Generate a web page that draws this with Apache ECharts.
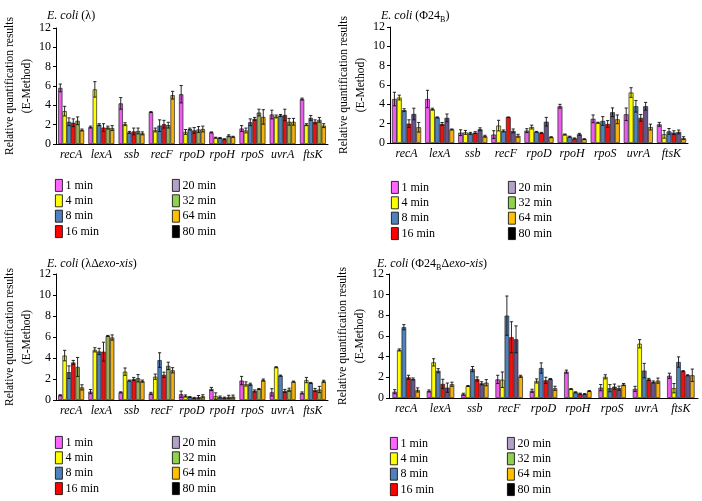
<!DOCTYPE html>
<html><head><meta charset="utf-8">
<script src="https://cdn.jsdelivr.net/npm/echarts@6/dist/echarts.min.js"></script>
<style>html,body{margin:0;padding:0;background:#fff}#c{width:702px;height:501px}</style>
</head><body><div id="c"></div>
<script>
// ---- data ----
const genes = ['recA','lexA','ssb','recF','rpoD','rpoH','rpoS','uvrA','ftsK'];
const timeNames = ['1 min','4 min','8 min','16 min','20 min','32 min','64 min','80 min'];
const yTicks = [0,2,4,6,8,10,12];

// E. coli (lambda): series 1,4,8,16,32,64 min
const lamSeries = ['1 min','4 min','8 min','16 min','32 min','64 min'];
const lamVals = [
 [5.8,1.75,4.2,3.3,5.15,1.2,1.6,3.05,4.65],
 [3.4,5.65,2.05,1.45,1.25,0.65,1.4,2.85,2.0],
 [2.3,2.0,1.2,1.9,1.55,0.62,2.25,2.95,2.7],
 [2.2,1.7,1.3,2.05,1.4,0.5,2.6,3.0,2.3],
 [2.4,1.7,1.35,1.95,1.5,0.85,3.25,2.3,2.5],
 [1.45,1.65,1.1,5.05,1.55,0.75,2.8,2.3,1.9]
];
const lamErr = [
 [0.4,0.1,0.6,0.05,0.9,0.05,0.3,0.45,0.1],
 [0.5,0.8,0.15,0.2,0.25,0.05,0.25,0.15,0.1],
 [0.4,0.1,0.1,0.6,0.1,0.05,0.35,0.1,0.25],
 [0.4,0.4,0.35,0.4,0.3,0.05,0.15,0.6,0.2],
 [0.4,0.15,0.3,0.3,0.3,0.1,0.35,0.35,0.25],
 [0.1,0.25,0.15,0.4,0.3,0.05,0.75,0.35,0.2]
];

// E. coli (Phi24B): series 1,4,8,16,20,64 min
const phiSeries = ['1 min','4 min','8 min','16 min','20 min','64 min'];
const phiVals = [
 [4.55,4.55,1.07,0.87,1.28,3.8,2.5,2.97,1.93],
 [4.7,3.5,1.1,1.8,1.65,0.88,2.1,5.22,0.9],
 [3.4,2.65,1.0,1.25,1.15,0.65,2.28,3.8,1.2],
 [2.0,1.97,1.07,2.67,1.05,0.47,1.97,2.6,1.07],
 [3.0,2.6,1.42,1.25,2.2,0.9,3.18,3.8,1.14],
 [1.63,1.4,0.7,0.75,0.6,0.4,2.45,1.65,0.5]
];
const phiErr = [
 [0.7,0.9,0.3,0.4,0.2,0.2,0.4,0.65,0.2],
 [0.25,0.1,0.2,0.55,0.2,0.05,0.05,0.5,0.4],
 [0.15,0.05,0.1,0.1,0.05,0.05,0.45,0.6,0.3],
 [0.4,0.15,0.1,0,0.05,0.05,0.35,0.35,0.2],
 [0.6,0.4,0.15,0.2,0.45,0.1,0.45,0.4,0.2],
 [0.5,0.05,0.1,0.15,0.05,0.05,0.45,0.3,0.15]
];

// E. coli (lambda delta exo-xis): series 1,4,8,16,32,64 min
const lamDSeries = ['1 min','4 min','8 min','16 min','32 min','64 min'];
const lamDVals = [
 [0.45,0.8,0.73,0.63,0.55,1.05,1.85,0.73,0.67],
 [4.23,4.78,2.7,2.22,0.38,0.38,1.53,3.12,1.9],
 [2.65,4.62,1.85,3.8,0.28,0.28,1.5,2.32,1.62],
 [3.57,4.6,2.0,2.4,0.2,0.22,0.86,0.86,0.95],
 [3.15,6.1,2.07,3.25,0.28,0.3,1.05,0.98,1.0],
 [1.2,5.95,1.8,2.83,0.35,0.32,1.9,1.75,1.78]
];
const lamDErr = [
 [0.05,0.2,0.05,0.1,0.3,0.15,0.4,0.35,0.1],
 [0.5,0.2,0.35,0.25,0.1,0.3,0.2,0.05,0.25],
 [0.6,0.3,0.05,0.7,0.05,0.1,0.1,0.05,0.05],
 [0.2,0.9,0.15,0.25,0.05,0.05,0.1,0.15,0.15],
 [0.9,0.05,0.35,0.35,0.15,0.15,0.05,0.15,0.3],
 [0.25,0.25,0.1,0.25,0.15,0.15,0.1,0.05,0.1]
];

// E. coli (Phi24B delta exo-xis): series 1,4,8,16,20,64 min
const phiDSeries = ['1 min','4 min','8 min','16 min','20 min','64 min'];
const phiDVals = [
 [0.61,0.68,0.36,1.8,0.7,2.55,1.0,0.88,2.15],
 [4.65,3.45,1.16,1.77,1.65,0.87,2.05,5.25,0.95],
 [6.85,2.64,2.8,7.97,2.9,0.55,0.95,2.65,3.48],
 [2.0,1.36,1.84,5.88,1.71,0.42,1.1,1.8,2.6],
 [1.84,1.0,1.42,5.68,1.84,0.38,0.95,1.55,2.2],
 [0.78,1.33,1.48,2.1,0.94,0.68,1.3,1.68,2.2]
];
const phiDErr = [
 [0.2,0.1,0.1,0.4,0.15,0.15,0.3,0.25,0.25],
 [0.1,0.35,0.05,0.75,0.2,0.05,0.2,0.4,0.45],
 [0.25,0.2,0.25,1.9,0.5,0.05,0.35,0.7,0.5],
 [0.2,0.45,0.2,1.5,0.3,0.05,0.25,0.1,0.05],
 [0.1,0.45,0.15,1.3,0.05,0.05,0.2,0.1,0.05],
 [0.2,0.2,0.3,0.1,0.2,0.05,0.1,0.25,0.6]
];

// ---- styles ----
const FONT = 'Liberation Serif';
const barColor = {'1 min':'#ee5cee','4 min':'#ffff00','8 min':'#4f81bd','16 min':'#ee1111',
  '20 min':'#66558a','32 min':'#9aae55','64 min':'#f2b10c','80 min':'#000000'};
const legColor = {'1 min':'#ff66ff','4 min':'#ffff00','8 min':'#4f81bd','16 min':'#ff0000',
  '20 min':'#b3a2c7','32 min':'#92d050','64 min':'#ffc000','80 min':'#000000'};

const panels = [
  {title:'{i|E. coli} (λ)', names:lamSeries, vals:lamVals, errs:lamErr,
   grid:{left:56, top:28, width:272, height:116}, gap:0.14, tx:42, ty:4, lx:55, ly:179},
  {title:'{i|E. coli} (Φ24{s|B})', names:phiSeries, vals:phiVals, errs:phiErr,
   grid:{left:390, top:27, width:298, height:116}, gap:0.12, tx:376, ty:4, lx:391, ly:181},
  {title:'{i|E. coli} (λΔ{i|exo-xis})', names:lamDSeries, vals:lamDVals, errs:lamDErr,
   grid:{left:56, top:274, width:272, height:126}, gap:0.14, tx:42, ty:252, lx:55, ly:436},
  {title:'{i|E. coli} (Φ24{s|B}Δ{i|exo-xis})', names:phiDSeries, vals:phiDVals, errs:phiDErr,
   grid:{left:389, top:274, width:309, height:124}, gap:0.2, tx:372, ty:252, lx:390, ly:437}
];

const option = {animation:false, title:[], grid:[], xAxis:[], yAxis:[], series:[], legend:[]};

panels.forEach((p, pi) => {
  option.title.push({text:p.title, left:p.tx, top:p.ty,
    textStyle:{fontFamily:FONT, fontSize:12, fontWeight:'normal', color:'#000', lineHeight:14,
      rich:{i:{fontStyle:'italic', fontFamily:FONT, fontSize:12},
            s:{fontSize:8, fontFamily:FONT, padding:[7,0,0,0]}}}});
  option.grid.push(Object.assign({containLabel:false}, p.grid));
  option.xAxis.push({type:'category', gridIndex:pi, data:genes,
    axisLine:{lineStyle:{color:'#000', width:1}}, axisTick:{show:false},
    axisLabel:{fontFamily:FONT, fontStyle:'italic', fontSize:12, color:'#000', margin:5, interval:0}});
  option.yAxis.push({type:'value', gridIndex:pi, min:yTicks[0], max:yTicks[yTicks.length-1], interval:2,
    name:'Relative quantification results\n(E-Method)', nameLocation:'middle', nameGap:20,
    nameTextStyle:{fontFamily:FONT, fontSize:11.5, color:'#000', lineHeight:17},
    axisLine:{show:true, lineStyle:{color:'#000', width:1}}, axisTick:{show:true, length:3, lineStyle:{color:'#000'}},
    splitLine:{show:false},
    axisLabel:{fontFamily:FONT, fontSize:12, color:'#000', margin:5}});
  const n = p.names.length;
  const errData = [];
  p.names.forEach((nm, k) => {
    option.series.push({type:'bar', name:nm, xAxisIndex:pi, yAxisIndex:pi, data:p.vals[k],
      barGap:'0%', barCategoryGap:(p.gap*100)+'%',
      itemStyle:{color:barColor[nm], borderColor:'#222', borderWidth:0.7}});
    p.vals[k].forEach((v, ci) => errData.push([ci, v, p.errs[k][ci], k]));
  });
  const gap = p.gap;
  option.series.push({type:'custom', name:'err'+pi, xAxisIndex:pi, yAxisIndex:pi, z:10,
    data:errData, encode:{x:0, y:1},
    renderItem:(params, api) => {
      const ci = api.value(0), v = api.value(1), e = api.value(2), k = api.value(3);
      const band = api.size([1,0])[0];
      const bw = band*(1-gap)/n;
      const cx = api.coord([ci, v])[0] + (k-(n-1)/2)*bw;
      const yt = api.coord([ci, v+e])[1];
      const yb = api.coord([ci, Math.max(0, v-e)])[1];
      const st = {stroke:'#111', lineWidth:0.9};
      return {type:'group', children:[
        {type:'line', shape:{x1:cx, y1:yt, x2:cx, y2:yb}, style:st},
        {type:'line', shape:{x1:cx-1.6, y1:yt, x2:cx+1.6, y2:yt}, style:st},
        {type:'line', shape:{x1:cx-1.6, y1:yb, x2:cx+1.6, y2:yb}, style:st}
      ]};
    }});
  // legends: two columns
  [[0,4],[4,8]].forEach((rng, col) => {
    option.legend.push({orient:'vertical', left:p.lx + col*117, top:p.ly, height:64, padding:0, icon:'rect',
      itemWidth:7, itemHeight:12, itemGap:2.6, selectedMode:false,
      itemStyle:{borderColor:'#000', borderWidth:0.8},
      textStyle:{fontFamily:FONT, fontSize:12, color:'#000', padding:[0,0,0,-2]},
      data:timeNames.slice(rng[0], rng[1]).map(nm => ({name:nm, itemStyle:{color:legColor[nm]}}))});
  });
});
// legend-only entry for 80 min (no data in any panel)
option.series.push({type:'line', name:'80 min', xAxisIndex:0, yAxisIndex:0, data:[]});

const chart = echarts.init(document.getElementById('c'), null, {renderer:'canvas'});
chart.setOption(option);
</script></body></html>
